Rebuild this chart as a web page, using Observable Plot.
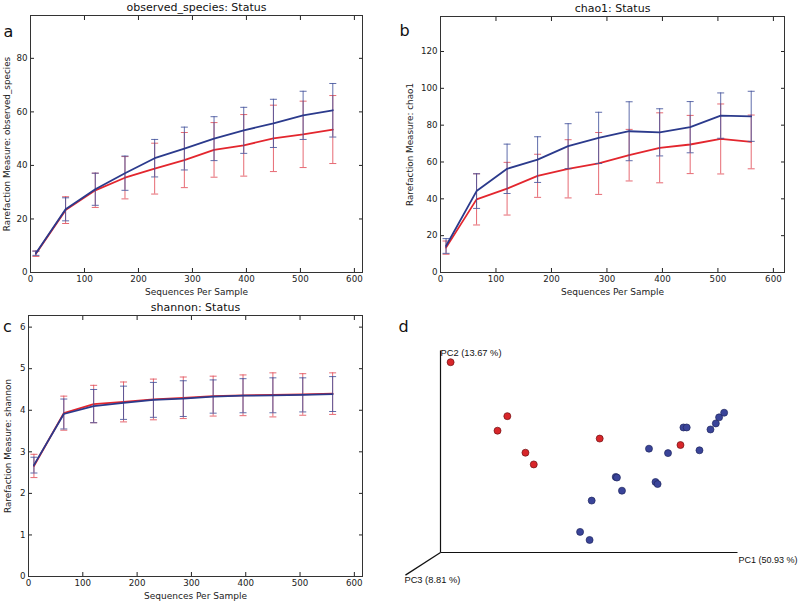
<!DOCTYPE html>
<html>
<head>
<meta charset="utf-8">
<script src="https://cdn.jsdelivr.net/npm/d3@7"></script>
<script src="https://cdn.jsdelivr.net/npm/@observablehq/plot@0.6"></script>
<style>
  body { margin: 0; background: #fff; }
  #fig { position: relative; width: 800px; height: 604px; background: #fff; overflow: hidden; }
  #fig svg { position: absolute; }
</style>
</head>
<body>
<div id="fig"></div>
<script>
// ---- data ----
const seqDepth = [10, 65, 120, 175, 230, 285, 340, 395, 450, 505, 560];

const obsBlue   = [7.2, 23.6, 31.1, 37.1, 42.7, 46.3, 50.0, 53.1, 55.7, 58.7, 60.6];
const obsBlueSd = [0.8, 4.3, 6.0, 6.4, 7.0, 8.0, 8.2, 8.6, 9.0, 9.0, 10.0];
const obsRed    = [7.0, 23.3, 30.7, 35.4, 38.8, 42.0, 45.8, 47.5, 50.1, 51.6, 53.4];
const obsRedSd  = [1.0, 5.0, 6.4, 7.9, 9.5, 10.3, 10.2, 11.5, 12.4, 12.4, 12.7];

const chaoBlue   = [14.4, 44.2, 56.3, 61.3, 68.6, 73.1, 76.7, 76.1, 78.9, 85.2, 84.8];
const chaoBlueSd = [4.0, 9.4, 13.4, 12.4, 12.2, 13.9, 16.0, 12.8, 13.9, 12.3, 13.6];
const chaoRed    = [13.5, 39.7, 45.5, 52.5, 56.3, 59.2, 63.7, 67.7, 69.5, 72.5, 70.9];
const chaoRedSd  = [3.6, 13.9, 14.3, 11.7, 15.8, 16.8, 14.0, 19.0, 15.8, 19.0, 14.6];

const shanBlue   = [2.68, 3.91, 4.10, 4.18, 4.25, 4.28, 4.33, 4.35, 4.36, 4.37, 4.39];
const shanBlueSd = [0.19, 0.36, 0.40, 0.40, 0.42, 0.43, 0.40, 0.41, 0.42, 0.41, 0.42];
const shanRed    = [2.66, 3.93, 4.15, 4.20, 4.26, 4.30, 4.34, 4.36, 4.37, 4.38, 4.40];
const shanRedSd  = [0.28, 0.41, 0.45, 0.48, 0.49, 0.50, 0.48, 0.49, 0.53, 0.50, 0.50];

const xTicks = [0, 100, 200, 300, 400, 500, 600];
const obsTicks = [0, 20, 40, 60, 80];
const chaoTicks = [0, 20, 40, 60, 80, 100, 120];
const shanTicks = [0, 1, 2, 3, 4, 5, 6];

// PCoA (projected 3D view) coordinates
const pcoaRedX  = [3.4, 22.5, 19.2, 28.6, 31.4, 53.6, 80.8];
const pcoaRedY  = [94.2, 67.5, 60.3, 49.4, 43.6, 56.4, 53.2];
const pcoaBlueX = [70.2, 76.6, 87.2, 90.9, 92.7, 93.8, 95.5, 81.8, 82.9, 59.0, 59.4, 61.1, 72.4, 73.1, 50.9, 47.0, 50.2];
const pcoaBlueY = [51.4, 49.2, 50.6, 60.9, 63.9, 66.9, 69.2, 61.9, 61.9, 37.4, 37.1, 30.6, 34.9, 33.9, 25.7, 10.2, 6.2];
const pcAxisLabels = ["PC1 (50.93 %)", "PC2 (13.67 %)", "PC3 (8.81 %)"];
const pc3End = [-11.8, -11.2];

// ---- styling ----
const BLUE = "#2b3a8c";
const RED = "#e3262e";
const BLUE_ERR = "#44549c";
const RED_ERR = "#e2505a";
const FONT = "DejaVu Sans";

const capSymbol = {
  draw(context, size) {
    const w = Math.sqrt(size / Math.PI);
    context.moveTo(-w, 0);
    context.lineTo(w, 0);
  }
};

function series(means, sds) {
  return seqDepth.map((x, i) => ({x, y: means[i], lo: means[i] - sds[i], hi: means[i] + sds[i]}));
}

function rarefaction(cfg) {
  const red = series(cfg.red, cfg.redSd);
  const blue = series(cfg.blue, cfg.blueSd);
  const errMarks = (data, color) => [
    Plot.ruleX(data, {x: "x", y1: "lo", y2: "hi", stroke: color, strokeWidth: 1, strokeOpacity: 0.85}),
    Plot.dot(data, {x: "x", y: "lo", symbol: capSymbol, r: 3.5, stroke: color, fill: "none", strokeWidth: 1, strokeOpacity: 0.85}),
    Plot.dot(data, {x: "x", y: "hi", symbol: capSymbol, r: 3.5, stroke: color, fill: "none", strokeWidth: 1, strokeOpacity: 0.85})
  ];
  const svg = Plot.plot({
    width: 400,
    height: cfg.height,
    marginLeft: cfg.ml, marginRight: cfg.mr, marginTop: cfg.mt, marginBottom: cfg.mb,
    style: {fontFamily: FONT, fontSize: "8.7px", background: "transparent", overflow: "visible", color: "#222"},
    x: {domain: cfg.xDomain, label: null},
    y: {domain: cfg.yDomain, label: null},
    marks: [
      Plot.axisX({anchor: "bottom", ticks: xTicks, tickSize: -4, tickPadding: 7, label: null, tickFormat: d3.format("d")}),
      Plot.axisX({anchor: "top", ticks: xTicks, tickSize: -4, label: null, tickFormat: () => ""}),
      Plot.axisY({anchor: "left", ticks: cfg.yTicks, tickSize: -4, tickPadding: 7, label: null, tickFormat: d3.format("d")}),
      Plot.axisY({anchor: "right", ticks: cfg.yTicks, tickSize: -4, label: null, tickFormat: () => ""}),
      ...errMarks(red, RED_ERR),
      Plot.line(red, {x: "x", y: "y", stroke: RED, strokeWidth: 1.8}),
      ...errMarks(blue, BLUE_ERR),
      Plot.line(blue, {x: "x", y: "y", stroke: BLUE, strokeWidth: 1.8}),
      Plot.frame({stroke: "#333", strokeWidth: 1}),
      Plot.text([cfg.title], {frameAnchor: "top", lineAnchor: "middle", dy: -8, fontSize: 11, fill: "#111"}),
      Plot.text(["Sequences Per Sample"], {frameAnchor: "bottom", lineAnchor: "middle", dy: 20, fontSize: 9, fill: "#222"}),
      Plot.text([cfg.yLabel], {frameAnchor: "left", rotate: -90, textAnchor: "middle", lineAnchor: "middle", dx: cfg.yLabelDx, fontSize: 8.8, fill: "#222"}),
      Plot.text([cfg.letter], {frameAnchor: "top-left", textAnchor: "middle", lineAnchor: "middle", dx: cfg.letterDx, dy: cfg.letterDy, fontSize: 16, fill: "#111"})
    ]
  });
  svg.style.left = cfg.left + "px";
  svg.style.top = cfg.top + "px";
  return svg;
}

const fig = document.getElementById("fig");

fig.appendChild(rarefaction({
  left: 0, top: 0, height: 300, ml: 30, mr: 38, mt: 15, mb: 28,
  xDomain: [0, 615], yDomain: [0, 96], yTicks: obsTicks,
  red: obsRed, redSd: obsRedSd, blue: obsBlue, blueSd: obsBlueSd,
  title: "observed_species: Status", yLabel: "Rarefaction Measure: observed_species",
  yLabelDx: -23, letter: "a", letterDx: -22, letterDy: 16
}));

fig.appendChild(rarefaction({
  left: 400, top: 0, height: 300, ml: 40, mr: 16, mt: 16, mb: 28,
  xDomain: [0, 620], yDomain: [0, 139], yTicks: chaoTicks,
  red: chaoRed, redSd: chaoRedSd, blue: chaoBlue, blueSd: chaoBlueSd,
  title: "chao1: Status", yLabel: "Rarefaction Measure: chao1",
  yLabelDx: -30, letter: "b", letterDx: -36, letterDy: 14
}));

fig.appendChild(rarefaction({
  left: 0, top: 300, height: 304, ml: 28, mr: 38, mt: 15, mb: 28,
  xDomain: [0, 615], yDomain: [0, 6.28], yTicks: shanTicks,
  red: shanRed, redSd: shanRedSd, blue: shanBlue, blueSd: shanBlueSd,
  title: "shannon: Status", yLabel: "Rarefaction Measure: shannon",
  yLabelDx: -20, letter: "c", letterDx: -21, letterDy: 11
}));

// ---- panel d: PCoA ----
const redPts = pcoaRedX.map((x, i) => ({x, y: pcoaRedY[i]}));
const bluePts = pcoaBlueX.map((x, i) => ({x, y: pcoaBlueY[i]}));
const axesLinks = [
  {x1: 0, y1: 0, x2: 100, y2: 0},
  {x1: 0, y1: 0, x2: 0, y2: 100},
  {x1: 0, y1: 0, x2: pc3End[0], y2: pc3End[1]}
];
const svgD = Plot.plot({
  width: 400, height: 304,
  marginLeft: 40, marginRight: 63, marginTop: 50, marginBottom: 52,
  style: {fontFamily: "Liberation Sans", fontSize: "9px", background: "transparent", overflow: "visible"},
  x: {domain: [0, 100], axis: null},
  y: {domain: [0, 100], axis: null},
  marks: [
    Plot.link(axesLinks, {x1: "x1", y1: "y1", x2: "x2", y2: "y2", stroke: "#111", strokeWidth: 1.2}),
    Plot.text([pcAxisLabels[0]], {x: () => 100, y: () => 0, textAnchor: "start", lineAnchor: "middle", dx: 1, dy: 7.5, fontSize: 9, fill: "#111"}),
    Plot.text([pcAxisLabels[1]], {x: () => 0, y: () => 100, textAnchor: "start", lineAnchor: "middle", dx: 0, dy: 3, fontSize: 9.3, fill: "#111"}),
    Plot.text([pcAxisLabels[2]], {x: () => pc3End[0], y: () => pc3End[1], textAnchor: "start", lineAnchor: "middle", dx: -1, dy: 5, fontSize: 9.3, fill: "#111"}),
    Plot.dot(bluePts, {x: "x", y: "y", r: 3.5, fill: "#3a4499", stroke: "#20275e", strokeWidth: 0.7}),
    Plot.dot(redPts, {x: "x", y: "y", r: 3.5, fill: "#d8262a", stroke: "#6e1012", strokeWidth: 0.7}),
    Plot.text(["d"], {frameAnchor: "top-left", textAnchor: "middle", lineAnchor: "middle", dx: -37, dy: -24, fontSize: 16, fill: "#111", fontFamily: FONT})
  ]
});
svgD.style.left = "400px";
svgD.style.top = "300px";
fig.appendChild(svgD);
</script>
</body>
</html>
